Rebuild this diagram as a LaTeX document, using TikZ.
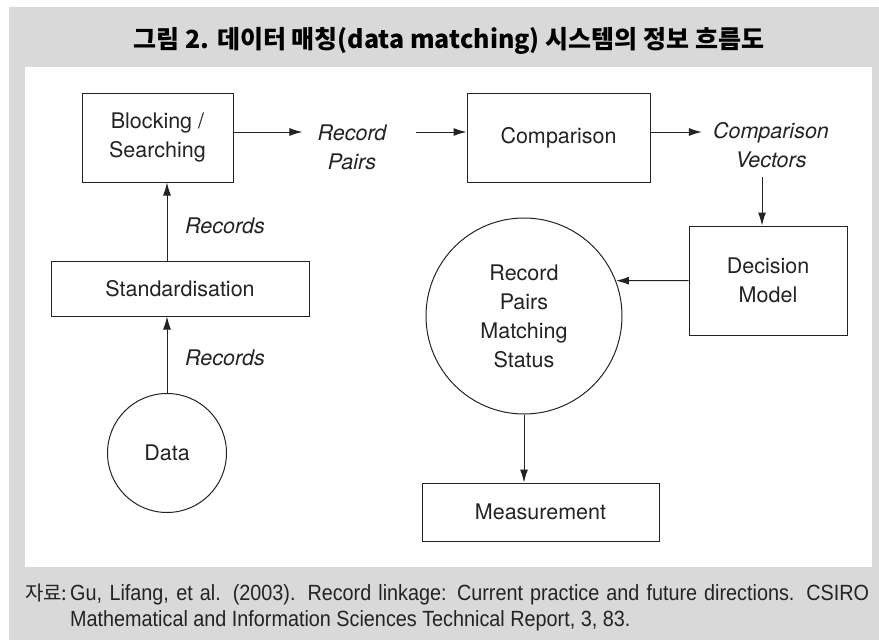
\documentclass[tikz,border=0pt]{standalone}
\usepackage{fontspec}
\setmainfont{TeX Gyre Heros}
\newfontfamily\krfont{Noto Sans CJK KR}
\newfontfamily\footfont[FakeStretch=0.9]{Liberation Sans}
\usetikzlibrary{arrows.meta}
\definecolor{bggray}{RGB}{217,217,217}
\definecolor{ink}{RGB}{35,35,35}
\newcommand\diagfont{\fontsize{21.5}{29}\selectfont}
\begin{document}
\begin{tikzpicture}[x=1pt,y=-1pt,
  box/.style={draw=ink, line width=1pt, rectangle, inner sep=0pt, align=center, text=ink, font=\diagfont},
  circ/.style={draw=ink, line width=1pt, circle, inner sep=0pt, align=center, text=ink, font=\diagfont},
  lbl/.style={inner sep=0pt, align=center, text=ink, font=\diagfont\itshape},
  arr/.style={draw=ink, line width=1pt, -{Latex[length=13pt,width=8pt]}},
  foot/.style={anchor=base west, inner sep=0pt, text=ink},
]
\useasboundingbox (0,0) rectangle (879,640);
\fill[white] (0,0) rectangle (879,640);
\fill[bggray] (9,7) rectangle (879,640);
\fill[white] (25,67) rectangle (872,567);

\node[anchor=base, inner sep=0pt, font=\krfont\bfseries\fontsize{25}{30}\selectfont, text=black] (title) at (449,48)
  {그림 2. 데이터 매칭(data matching) 시스템의 정보 흐름도};

% boxes
\node[box, minimum width=151pt, minimum height=89pt] (blk) at (157.5,137.5) {Blocking /\\Searching};
\node[box, minimum width=183pt, minimum height=89pt] (cmp) at (558.5,137.5) {Comparison};
\node[box, minimum width=158pt, minimum height=109pt] (dm) at (768,280.5) {Decision\\Model};
\node[box, minimum width=258pt, minimum height=55pt] (std) at (180,288.5) {Standardisation};
\node[box, minimum width=237pt, minimum height=58pt] (meas) at (540.5,512) {Measurement};
\node[circ, minimum size=196pt] (rpms) at (524,316) {Record\\Pairs\\Matching\\Status};
\node[circ, minimum size=119pt] (data) at (167,453) {Data};

% labels
\node[lbl, inner xsep=15pt] (rp) at (352,147) {Record\\Pairs};
\node[lbl, inner xsep=11pt] (cv) at (771,145) {Comparison\\Vectors};
\node[lbl] (rec1) at (225,226) {Records};
\node[lbl] (rec2) at (225,358) {Records};

% helper coordinates
\coordinate (row) at (0,132);
\coordinate (rpe) at ([xshift=14pt]rp.east);
\coordinate (cvs) at (762,177);

% connectors
\draw[arr] (blk.east |- row) -- (rp.west |- row);
\draw[arr] (rpe |- row) -- (cmp.west |- row);
\draw[arr] (cmp.east |- row) -- (cv.west |- row);
\draw[arr] (cvs) -- (cvs |- dm.north);
\draw[arr] (dm.west) -- (rpms.21.6);
\draw[arr] (rpms.south) -- (rpms.south |- meas.north);
\draw[arr] (data.north) -- (data.north |- std.south);
\draw[arr] (data.north |- std.north) -- (data.north |- blk.south);

% footer
\node[foot, font=\krfont\fontsize{20}{26}\selectfont] (src) at (25,600) {자료:};
\node[foot, font=\footfont\fontsize{22}{26}\selectfont] (ref1) at (70,600)
  {\makebox[799pt][s]{Gu, Lifang, et al. (2003). Record linkage: Current practice and future directions. CSIRO}};
\node[foot, font=\footfont\fontsize{22}{26}\selectfont] (ref2) at (70,626)
  {Mathematical and Information Sciences Technical Report, 3, 83.};
\end{tikzpicture}
\end{document}
